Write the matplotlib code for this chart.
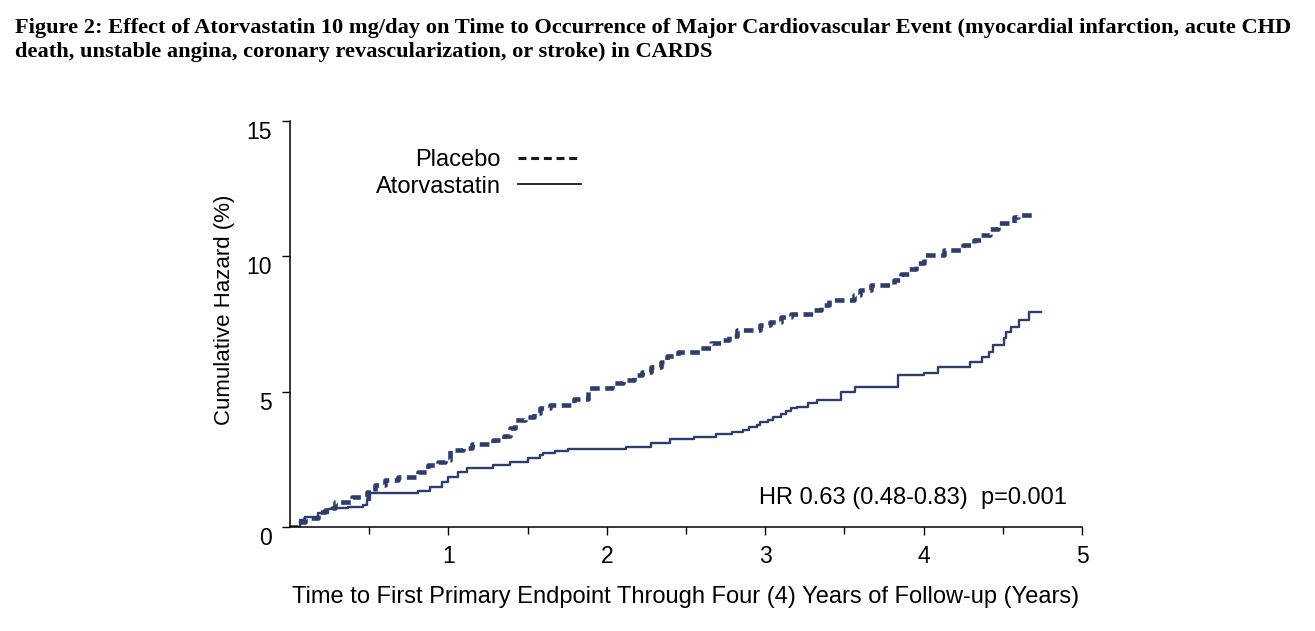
import matplotlib
matplotlib.use('Agg')
import matplotlib.pyplot as plt
from matplotlib.lines import Line2D

# step points: (years, cumulative hazard %)
placebo_t = [0.0, 0.05, 0.095, 0.177, 0.22, 0.265, 0.284, 0.39, 0.487, 0.537, 0.60, 0.68,
             0.81, 0.87, 0.935, 0.98, 1.01, 1.09, 1.15, 1.28, 1.35, 1.39, 1.42, 1.485,
             1.54, 1.58, 1.64, 1.79, 1.88, 2.035, 2.105, 2.17, 2.225, 2.28, 2.34, 2.38,
             2.45, 2.59, 2.655, 2.72, 2.77, 2.825, 2.97, 3.03, 3.10, 3.16, 3.30, 3.35,
             3.40, 3.56, 3.60, 3.67, 3.81, 3.86, 3.91, 3.95, 4.0, 4.13, 4.25, 4.32, 4.36,
             4.42, 4.47, 4.57, 4.595, 4.70]
placebo_h = [0.0, 0.18, 0.33, 0.55, 0.63, 0.70, 0.92, 1.11, 1.29, 1.55, 1.73, 1.85,
             2.03, 2.29, 2.40, 2.47, 2.84, 2.92, 3.06, 3.21, 3.36, 3.65, 3.95, 4.06,
             4.21, 4.39, 4.50, 4.72, 5.13, 5.31, 5.42, 5.61, 5.72, 5.90, 6.09, 6.31,
             6.46, 6.61, 6.79, 6.90, 7.05, 7.27, 7.45, 7.56, 7.75, 7.86, 8.01, 8.19,
             8.38, 8.56, 8.75, 8.93, 9.11, 9.34, 9.52, 9.74, 10.04, 10.22, 10.41, 10.59,
             10.77, 11.0, 11.25, 11.44, 11.51, 11.51]

atorva_t = [0.0, 0.063, 0.095, 0.177, 0.24, 0.284, 0.367, 0.46, 0.487, 0.506, 0.81, 0.885,
            0.96, 1.0, 1.06, 1.12, 1.28, 1.39, 1.50, 1.58, 1.60, 1.675, 1.757, 2.12,
            2.28, 2.40, 2.55, 2.69, 2.79, 2.86, 2.895, 2.95, 2.97, 3.02, 3.05, 3.10,
            3.13, 3.16, 3.20, 3.27, 3.33, 3.48, 3.57, 3.84, 4.0, 4.09, 4.29, 4.37, 4.41,
            4.44, 4.51, 4.52, 4.55, 4.60, 4.665, 4.74]
atorva_h = [0.0, 0.26, 0.37, 0.52, 0.66, 0.70, 0.74, 0.81, 1.0, 1.25, 1.33, 1.48,
            1.66, 1.85, 2.03, 2.18, 2.29, 2.40, 2.55, 2.66, 2.73, 2.80, 2.88, 2.95,
            3.10, 3.25, 3.32, 3.43, 3.51, 3.58, 3.69, 3.76, 3.87, 3.95, 4.06, 4.17,
            4.28, 4.39, 4.43, 4.58, 4.69, 4.98, 5.17, 5.61, 5.68, 5.90, 6.09, 6.27, 6.46,
            6.72, 6.97, 7.20, 7.38, 7.64, 7.93, 7.93]

x_ticks = [1, 2, 3, 4, 5]
x_minor = [0.5, 1.5, 2.5, 3.5, 4.5]
y_ticks = [0, 5, 10, 15]

title = ('Figure 2: Effect of Atorvastatin 10 mg/day on Time to Occurrence of Major '
         'Cardiovascular Event (myocardial infarction, acute CHD\n'
         'death, unstable angina, coronary revascularization, or stroke) in CARDS')

navy = '#2d3e6e'
plt.rcParams['font.family'] = ['Liberation Sans', 'DejaVu Sans']

fig = plt.figure(figsize=(13.15, 6.31), dpi=100)
ax = fig.add_axes([290/1315, 1 - 527/631, 792/1315, 406/631])

ax.step(placebo_t, placebo_h, where='post', color=navy, lw=3.3,
        linestyle=(0, (2.1, 1.2)))
ax.step(atorva_t, atorva_h, where='post', color=navy, lw=1.7)

ax.set_xlim(0, 5)
ax.set_ylim(0, 15)
ax.set_xticks(x_ticks)
ax.set_xticks(x_minor, minor=True)
ax.set_yticks(y_ticks)
ax.tick_params(axis='both', labelsize=16.5, length=6, width=1, color='black')
ax.tick_params(axis='x', which='minor', length=5, width=1)
ax.tick_params(axis='x', pad=7)
ax.tick_params(axis='y', pad=7)
for lab in ax.get_yticklabels():
    lab.set_va('top')
for side in ['top', 'right']:
    ax.spines[side].set_visible(False)
for side in ['left', 'bottom']:
    ax.spines[side].set_linewidth(1.1)

ax.set_xlabel('Time to First Primary Endpoint Through Four (4) Years of Follow-up (Years)',
              fontsize=17, labelpad=13)
ax.set_ylabel('Cumulative Hazard (%)', fontsize=16)
ax.yaxis.set_label_coords(-0.07, 0.534)

handles = [Line2D([], [], color='#1a1a1a', lw=2.2, linestyle=(0, (2.6, 1.55))),
           Line2D([], [], color='#1a1a1a', lw=1.3)]
ax.legend(handles, ['Placebo', 'Atorvastatin'], loc='upper right', markerfirst=False,
          frameon=False, fontsize=17, handlelength=2.65, handletextpad=0.75,
          labelspacing=0.2, borderpad=0, borderaxespad=0,
          bbox_to_anchor=((581 - 290) / 792, (527 - 149) / 406))

ax.text(0.981, 0.071, 'HR 0.63 (0.48-0.83)  p=0.001', transform=ax.transAxes,
        ha='right', va='center', fontsize=17)

fig.text(15/1315, 1 - 18/631, title, ha='left', va='top', fontsize=16.1,
         fontweight='bold', family='Liberation Serif', linespacing=1.25)

fig.savefig('out.png', dpi=100)
